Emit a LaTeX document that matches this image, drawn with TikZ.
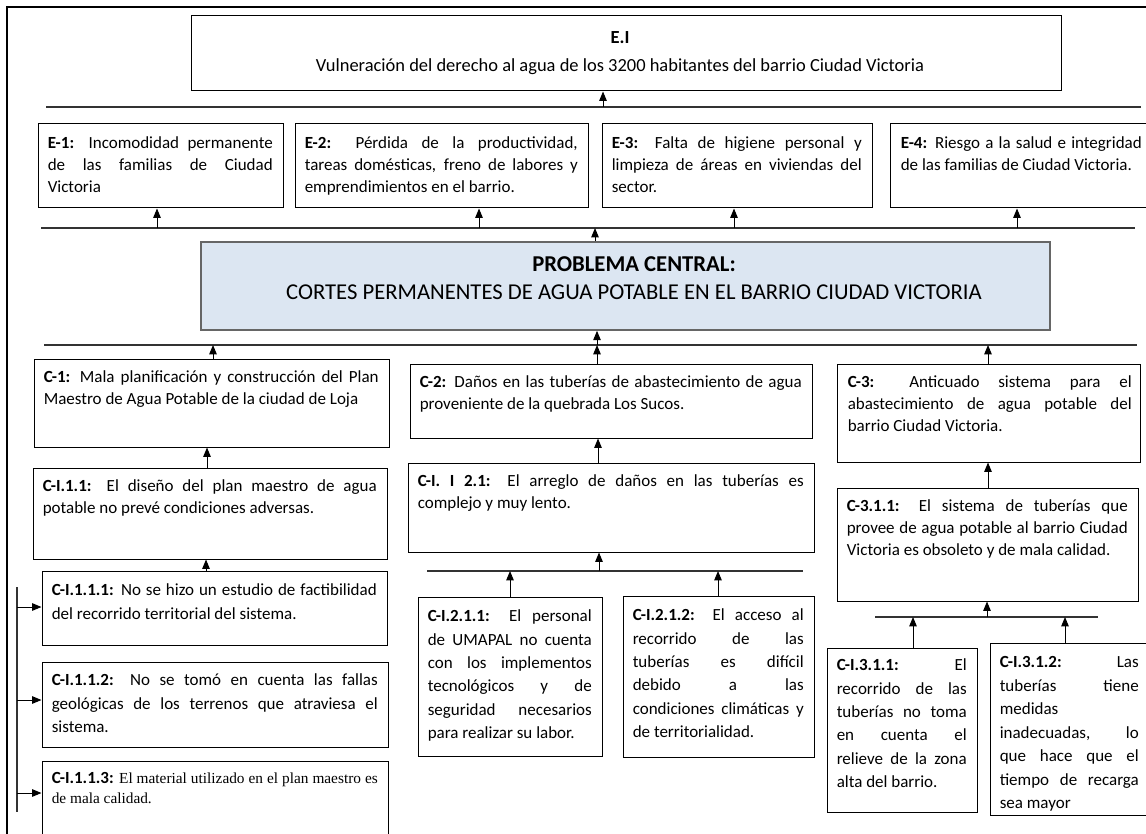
\documentclass[tikz,border=0pt]{standalone}
\usepackage{fontspec}
\setmainfont{Carlito}
\newfontfamily\tnrfont{Liberation Serif}
\usetikzlibrary{arrows.meta,fit}
\tolerance=10000
\hyphenpenalty=10000
\exhyphenpenalty=10000
\newcommand\fsb{\fontsize{12.75}{16.5}\selectfont}
\newcommand\fsn{\fontsize{12.75}{17.6}\selectfont}
\newcommand\fsei{\fontsize{13.85}{21}\selectfont}
\newcommand\fspc{\fontsize{17}{21}\selectfont}
\definecolor{pcblue}{RGB}{220,230,242}
\begin{document}
\begin{tikzpicture}[x=0.75pt,y=-0.75pt,
  bx/.style={draw=black, line width=0.75pt, inner sep=0pt},
  pcbox/.style={draw=black!60, fill=pcblue, line width=1.2pt, inner sep=0pt},
  tx/.style={anchor=north west, inner sep=0pt, align=justify, font=\fsb},
  txn/.style={tx, font=\fsn},
  hl/.style={draw=black!80, line width=0.9pt},
  arr/.style={draw=black, line width=0.75pt, -{Triangle[length=7pt,width=5.6pt]}},
  outerframe/.style={draw=black, line width=1.6pt}]
\useasboundingbox (0,0) rectangle (1146,834);
% outer frame
\coordinate (fbl) at (7,840);
\coordinate (ftl) at (7,7);
\coordinate (ftr) at (1150,7);
\draw[outerframe] (fbl) -- (ftl) -- (ftr);

% ---------- effects ----------
\node[bx, fit={(191,16) (1061,91)}] (ei) {};
\node[font=\fsei, align=center, anchor=north, inner sep=0pt] (eit) at ([shift={(-6,16)}]ei.north)
  {\textbf{E.I}\\Vulneración del derecho al agua de los 3200 habitantes del barrio Ciudad Victoria};

\node[bx, fit={(38,124) (283,208)}] (e1) {};
\node[tx, text width=168.75pt] (e1t) at ([shift={(10,13)}]e1.north west)
  {\textbf{E-1:} Incomodidad permanente\linebreak de las familias de Ciudad\linebreak Victoria};
\node[bx, fit={(295,124) (588,208)}] (e2) {};
\node[tx, text width=204.75pt] (e2t) at ([shift={(10,13)}]e2.north west)
  {\textbf{E-2:} Pérdida de la productividad,\linebreak tareas domésticas, freno de labores y\linebreak emprendimientos en el barrio.};
\node[bx, fit={(602,124) (872,208)}] (e3) {};
\node[tx, text width=187.5pt] (e3t) at ([shift={(10,13)}]e3.north west)
  {\textbf{E-3:} Falta de higiene personal y\linebreak limpieza de áreas en viviendas del\linebreak sector.};
\node[bx, fit={(890,124) (1152,208)}] (e4) {};
\node[tx, text width=180.75pt] (e4t) at ([shift={(11,13)}]e4.north west)
  {\textbf{E-4:} Riesgo a la salud e integridad\linebreak de las familias de Ciudad Victoria.};

% ---------- central problem ----------
\node[pcbox, fit={(201,242) (1050,330)}] (pc) {};
\node[font=\fspc, align=center, anchor=north, inner sep=0pt] (pct) at (634,256)
  {\textbf{PROBLEMA CENTRAL:}\\CORTES PERMANENTES DE AGUA POTABLE EN EL BARRIO CIUDAD VICTORIA};

% ---------- causes ----------
\node[bx, fit={(34,359) (389,447)}] (c1) {};
\node[tx, text width=251.25pt] (c1t) at ([shift={(10,12)}]c1.north west)
  {\textbf{C-1:} Mala planificación y construcción del Plan\linebreak Maestro de Agua Potable de la ciudad de Loja};
\node[bx, fit={(410,364) (812,438)}] (c2) {};
\node[tx, text width=286.5pt] (c2t) at ([shift={(10,12)}]c2.north west)
  {\textbf{C-2:} Daños en las tuberías de abastecimiento de agua\linebreak proveniente de la quebrada Los Sucos.};
\node[bx, fit={(837,364) (1140,462)}] (c3) {};
\node[tx, text width=213pt] (c3t) at ([shift={(11,12)}]c3.north west)
  {\textbf{C-3:} Anticuado sistema para el\linebreak abastecimiento de agua potable del\linebreak barrio Ciudad Victoria.};

\node[bx, fit={(33,468) (387,559)}] (ci11) {};
\node[tx, text width=250.5pt] (ci11t) at ([shift={(10,12)}]ci11.north west)
  {\textbf{C-I.1.1:} El diseño del plan maestro de agua\linebreak potable no prevé condiciones adversas.};
\node[bx, fit={(408,463) (814,552)}] (ci21) {};
\node[tx, text width=289.5pt] (ci21t) at ([shift={(10,12)}]ci21.north west)
  {\textbf{C-I. I 2.1:} El arreglo de daños en las tuberías es\linebreak complejo y muy lento.};
\node[bx, fit={(837,488) (1138,601)}] (c311) {};
\node[tx, text width=210.75pt] (c311t) at ([shift={(10,12)}]c311.north west)
  {\textbf{C-3.1.1:} El sistema de tuberías que\linebreak provee de agua potable al barrio Ciudad\linebreak Victoria es obsoleto y de mala calidad.};

\node[bx, fit={(42,571) (387,645)}] (ci111) {};
\node[txn, text width=243.75pt] (ci111t) at ([shift={(10,13)}]ci111.north west)
  {\textbf{C-I.1.1.1:} No se hizo un estudio de factibilidad\linebreak del recorrido territorial del sistema.};
\node[bx, fit={(42,662) (388,747)}] (ci112) {};
\node[txn, text width=244.5pt] (ci112t) at ([shift={(10,12)}]ci112.north west)
  {\textbf{C-I.1.1.2:} No se tomó en cuenta las fallas\linebreak geológicas de los terrenos que atraviesa el\linebreak sistema.};
\node[bx, fit={(42,761) (388,850)}] (ci113) {};
\node[tx, text width=244.5pt, font=\fontsize{12.75}{15}\selectfont] (ci113t) at ([shift={(10,12)}]ci113.north west)
  {\textbf{C-I.1.1.3:} {\tnrfont\fontsize{11.5}{15}\selectfont El material utilizado en el plan maestro es\linebreak de mala calidad.}};

\node[bx, fit={(418,597) (602,756)}] (ci211) {};
\node[txn, text width=123pt] (ci211t) at ([shift={(10,13)}]ci211.north west)
  {\textbf{C-I.2.1.1:} El personal\linebreak de UMAPAL no cuenta\linebreak con los implementos\linebreak tecnológicos y de\linebreak seguridad necesarios\linebreak para realizar su labor.};
\node[bx, fit={(623,596) (814,757)}] (ci212) {};
\node[txn, text width=128.25pt] (ci212t) at ([shift={(10,13)}]ci212.north west)
  {\textbf{C-I.2.1.2:} El acceso al\linebreak recorrido de las\linebreak tuberías es difícil\linebreak debido a las\linebreak condiciones climáticas y\linebreak de territorialidad.};

\node[bx, fit={(827,648) (977,812)}] (ci311) {};
\node[txn, text width=97.5pt] (ci311t) at ([shift={(10,11)}]ci311.north west)
  {\textbf{C-I.3.1.1:} El\linebreak recorrido de las\linebreak tuberías no toma\linebreak en cuenta el\linebreak relieve de la zona\linebreak alta del barrio.};
\node[bx, fit={(990,643) (1152,815)}] (ci312) {};
\node[txn, text width=104.25pt] (ci312t) at ([shift={(10,14)}]ci312.north west)
  {\textbf{C-I.3.1.2:} Las\linebreak tuberías tiene\linebreak medidas\\ inadecuadas, lo\linebreak que hace que el\linebreak tiempo de recarga\linebreak sea mayor};

% ---------- horizontal bars ----------
\coordinate (l1a) at (46,107);  \coordinate (l1b) at (1141,107);
\coordinate (l2a) at (41,228);  \coordinate (l2b) at (1135,228);
\coordinate (l3a) at (44,345);  \coordinate (l3b) at (1137,345);
\coordinate (l4a) at (427,571); \coordinate (l4b) at (803,571);
\coordinate (l5a) at (875,617); \coordinate (l5b) at (1098,617);
\coordinate (bra) at (17,587);  \coordinate (brb) at (17,812);
\draw[hl] (l1a) -- (l1b);
\draw[hl] (l2a) -- (l2b);
\draw[hl] (l3a) -- (l3b);
\draw[hl] (l4a) -- (l4b);
\draw[hl] (l5a) -- (l5b);
\draw[hl] (bra) -- (brb);

% ---------- arrow x positions ----------
\coordinate (xei) at (603,0);
\coordinate (xe1) at (157,0);
\coordinate (xe2) at (479,0);
\coordinate (xe3) at (734,0);
\coordinate (xe4) at (1017,0);
\coordinate (xpcu) at (595,0);
\coordinate (xpcd) at (597,0);
\coordinate (xc1) at (213,0);
\coordinate (xc2) at (597,0);
\coordinate (xc3) at (988,0);
\coordinate (xci11) at (207,0);
\coordinate (xci21) at (598,0);
\coordinate (xci111) at (206,0);
\coordinate (xl4) at (599,0);
\coordinate (xci211) at (510,0);
\coordinate (xci212) at (718,0);
\coordinate (xl5) at (987,0);
\coordinate (xci311) at (913,0);
\coordinate (xci312) at (1065,0);
\coordinate (ya1) at (0,607);
\coordinate (ya2) at (0,700);
\coordinate (ya3) at (0,793);

% ---------- arrows ----------
\draw[arr] (xei |- l1a) -- (xei |- ei.south);
\draw[arr] (xe1 |- l2a) -- (xe1 |- e1.south);
\draw[arr] (xe2 |- l2a) -- (xe2 |- e2.south);
\draw[arr] (xe3 |- l2a) -- (xe3 |- e3.south);
\draw[arr] (xe4 |- l2a) -- (xe4 |- e4.south);
\draw[arr] (xpcu |- pc.north) -- (xpcu |- l2a);
\draw[arr] (xpcd |- l3a) -- (xpcd |- pc.south);
\draw[arr] (xc1 |- c1.north) -- (xc1 |- l3a);
\draw[arr] (xc2 |- c2.north) -- (xc2 |- l3a);
\draw[arr] (xc3 |- c3.north) -- (xc3 |- l3a);
\draw[arr] (xci11 |- ci11.north) -- (xci11 |- c1.south);
\draw[arr] (xci21 |- ci21.north) -- (xci21 |- c2.south);
\draw[arr] (xc3 |- c311.north) -- (xc3 |- c3.south);
\draw[arr] (xci111 |- ci111.north) -- (xci111 |- ci11.south);
\draw[arr] (xl4 |- l4a) -- (xl4 |- ci21.south);
\draw[arr] (xci211 |- ci211.north) -- (xci211 |- l4a);
\draw[arr] (xci212 |- ci212.north) -- (xci212 |- l4a);
\draw[arr] (xl5 |- l5a) -- (xl5 |- c311.south);
\draw[arr] (xci311 |- ci311.north) -- (xci311 |- l5a);
\draw[arr] (xci312 |- ci312.north) -- (xci312 |- l5a);
\draw[arr] (bra |- ya1) -- (ci111.west |- ya1);
\draw[arr] (bra |- ya2) -- (ci112.west |- ya2);
\draw[arr] (bra |- ya3) -- (ci113.west |- ya3);
\end{tikzpicture}
\end{document}
